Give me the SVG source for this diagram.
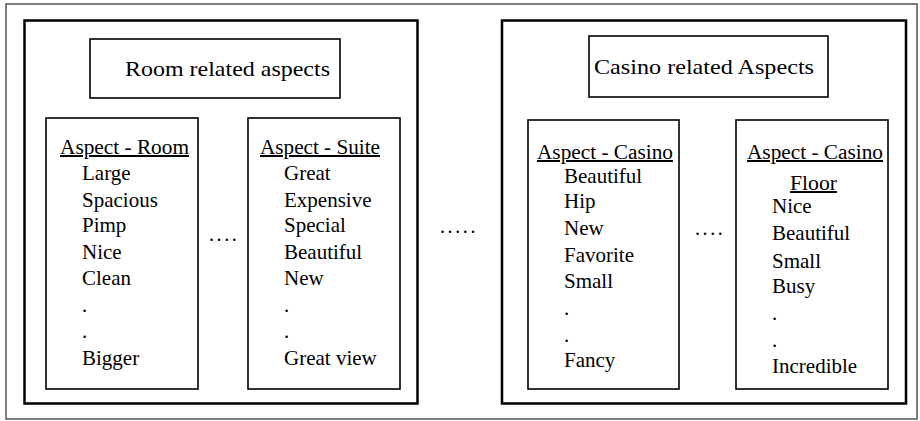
<svg xmlns="http://www.w3.org/2000/svg" width="920" height="421" viewBox="0 0 920 421">
<style>
text{font-family:"Liberation Serif","Times New Roman",serif;fill:#000}
.t{font-size:22px}
.h{font-size:20px;text-decoration:underline}
.i{font-size:21px}
.frame{fill:#fff;stroke:#555;stroke-width:1.5}
.panel{fill:none;stroke:#000;stroke-width:2.5}
.box{fill:none;stroke:#000;stroke-width:1.6}
.dots{font-size:20px;letter-spacing:2.6px}
</style>
<rect class="frame" x="6" y="4" width="911" height="415"/>
<g id="room-panel">
<rect class="panel" x="24.5" y="20.5" width="393" height="383"/>
<g id="room-title">
<rect class="box" x="90" y="39" width="250" height="59"/>
<text class="t" x="125" y="76" textLength="205" lengthAdjust="spacingAndGlyphs">Room related aspects</text>
</g>
<g id="aspect-room">
<rect class="box" x="46" y="118" width="152" height="271"/>
<text class="h" x="60" y="154" textLength="129" lengthAdjust="spacingAndGlyphs">Aspect - Room</text>
<text class="i" x="82" y="180">Large</text>
<text class="i" x="82" y="206.5">Spacious</text>
<text class="i" x="82" y="232">Pimp</text>
<text class="i" x="82" y="259">Nice</text>
<text class="i" x="82" y="285">Clean</text>
<text class="i" x="82" y="312">.</text>
<text class="i" x="82" y="338">.</text>
<text class="i" x="82" y="364.5">Bigger</text>
</g>
<g id="aspect-suite">
<rect class="box" x="248" y="118" width="152" height="271"/>
<text class="h" x="260" y="154" textLength="120" lengthAdjust="spacingAndGlyphs">Aspect - Suite</text>
<text class="i" x="284" y="180">Great</text>
<text class="i" x="284" y="206.5">Expensive</text>
<text class="i" x="284" y="232">Special</text>
<text class="i" x="284" y="259">Beautiful</text>
<text class="i" x="284" y="285">New</text>
<text class="i" x="284" y="312">.</text>
<text class="i" x="284" y="338">.</text>
<text class="i" x="284" y="364.5">Great view</text>
</g>
<text class="dots" x="209" y="241">....</text>
</g>
<text class="dots" x="440" y="233">.....</text>
<g id="casino-panel">
<rect class="panel" x="502" y="20.5" width="404" height="383"/>
<g id="casino-title">
<rect class="box" x="589" y="36" width="239" height="61"/>
<text class="t" x="594" y="74" textLength="220" lengthAdjust="spacingAndGlyphs">Casino related Aspects</text>
</g>
<g id="aspect-casino">
<rect class="box" x="528" y="120" width="151" height="269"/>
<text class="h" x="537" y="159" textLength="136" lengthAdjust="spacingAndGlyphs">Aspect - Casino</text>
<text class="i" x="564" y="183">Beautiful</text>
<text class="i" x="564" y="208">Hip</text>
<text class="i" x="564" y="235">New</text>
<text class="i" x="564" y="262">Favorite</text>
<text class="i" x="564" y="288">Small</text>
<text class="i" x="564" y="315">.</text>
<text class="i" x="564" y="342">.</text>
<text class="i" x="564" y="367">Fancy</text>
</g>
<g id="aspect-casino-floor">
<rect class="box" x="736" y="120" width="152" height="269"/>
<text class="h" x="747" y="159" textLength="136" lengthAdjust="spacingAndGlyphs">Aspect - Casino</text>
<text class="h" x="790" y="190" textLength="47" lengthAdjust="spacingAndGlyphs">Floor</text>
<text class="i" x="772" y="213">Nice</text>
<text class="i" x="772" y="240">Beautiful</text>
<text class="i" x="772" y="268">Small</text>
<text class="i" x="772" y="293">Busy</text>
<text class="i" x="772" y="320">.</text>
<text class="i" x="772" y="347">.</text>
<text class="i" x="772" y="373">Incredible</text>
</g>
<text class="dots" x="695" y="235">....</text>
</g>
</svg>
